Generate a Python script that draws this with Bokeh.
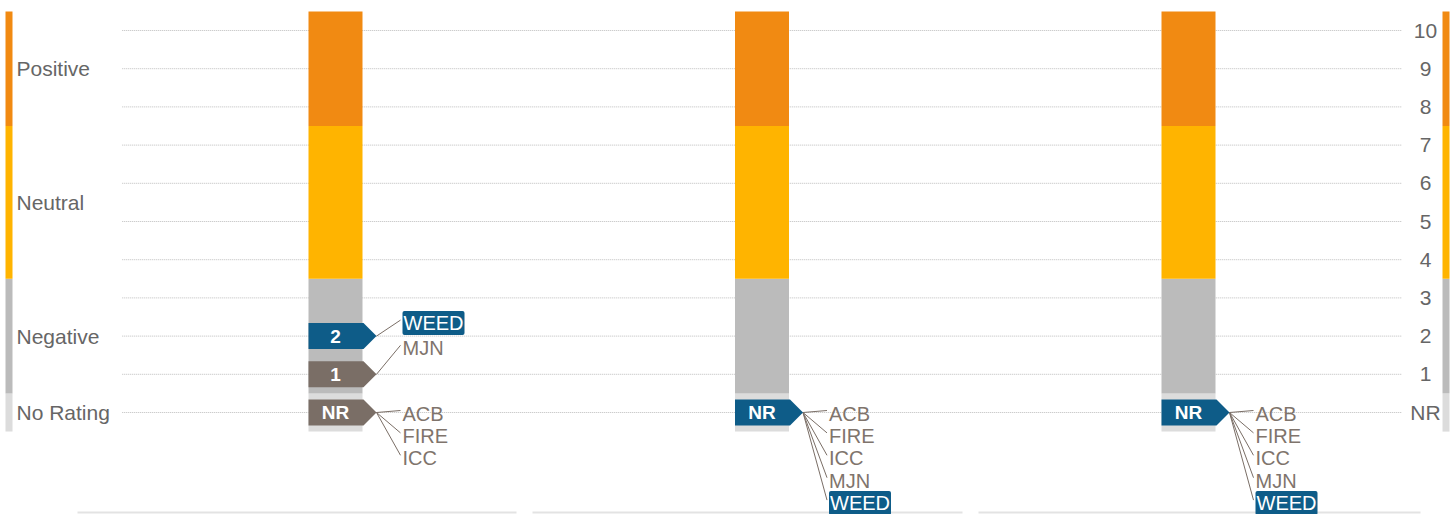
from bokeh.plotting import figure
from bokeh.models import Range1d
from bokeh.core.properties import value
from bokeh.embed import file_html
from bokeh.resources import INLINE

# ---------------- data ----------------
columns = [0, 1, 2]
tickers = ["ACB", "FIRE", "ICC", "MJN", "WEED"]
ratings_col0 = ["NR", "NR", "NR", "1", "2"]
ratings_col1 = ["NR", "NR", "NR", "NR", "NR"]
ratings_col2 = ["NR", "NR", "NR", "NR", "NR"]
ratings = [ratings_col0, ratings_col1, ratings_col2]
highlight = "WEED"

band_labels = ["No Rating", "Negative", "Neutral", "Positive"]
band_low = [-0.5, 0.5, 3.5, 7.5]
band_high = [0.5, 3.5, 7.5, 10.5]
band_label_pos = [0, 2, 5.5, 9]
band_colors = ["#DCDCDC", "#BBBBBB", "#FFB400", "#F18A12"]

tick_values = [0, 1, 2, 3, 4, 5, 6, 7, 8, 9, 10]
tick_labels = ["NR", "1", "2", "3", "4", "5", "6", "7", "8", "9", "10"]
rating_value = {"NR": 0, "1": 1, "2": 2, "3": 3, "4": 4, "5": 5,
                "6": 6, "7": 7, "8": 8, "9": 9, "10": 10}

# ---------------- layout / style ----------------
W, H = 1453, 514
COL_PX = 426.5          # pixels per column
ROW_PX = 38.2           # pixels per rating step
COL0_SCREEN = 335       # screen x of first column
ZERO_SCREEN_Y = 412     # screen y of rating 0 (NR)
FONT = value("Liberation Sans")
BLUE = "#0E5C88"
BROWN = "#7A6E66"
LABEL_COLOR = "#7F746C"
AXIS_TEXT = "#666666"
LABEL_START_PX = {"2": -13, "1": -26, "NR": 1}
LABEL_STEP_PX = 22.4
PANEL_SPANS_PX = [(77, 516), (532, 962), (978, 1420)]
BOTTOM_LINE_PX = 512

x_start = -COL0_SCREEN / COL_PX
x_end = x_start + W / COL_PX
y_end = ZERO_SCREEN_Y / ROW_PX
y_start = y_end - H / ROW_PX


def px_x(n):
    return n / COL_PX


def px_y(n):
    return n / ROW_PX


def sx(px):
    return x_start + px_x(px)


def sy(py):
    return y_end - px_y(py)


p = figure(width=W, height=H, x_range=Range1d(x_start, x_end),
           y_range=Range1d(y_start, y_end), output_backend="svg",
           toolbar_location=None, min_border=0, x_axis_type=None,
           y_axis_type=None)
p.outline_line_color = None
p.background_fill_color = "white"
p.border_fill_color = "white"

# grid lines
n = len(columns)
p.segment(x0=[-0.5] * len(tick_values), x1=[n - 0.5] * len(tick_values),
          y0=tick_values, y1=tick_values, line_color="#BDBDBD",
          line_width=1, line_dash="1 1")

# side strips
p.quad(left=[sx(5)] * 4, right=[sx(12)] * 4, bottom=band_low,
       top=band_high, fill_color=band_colors, line_color=None)
p.quad(left=[sx(1442)] * 4, right=[sx(1449)] * 4, bottom=band_low,
       top=band_high, fill_color=band_colors, line_color=None)

# left band labels
p.text(x=[sx(16)] * 4, y=band_label_pos, text=band_labels,
       text_font=FONT, text_font_size="21px", text_color=AXIS_TEXT,
       text_align="left", text_baseline="middle")

# right tick labels
p.text(x=[sx(1425)] * len(tick_values), y=tick_values,
       text=tick_labels, text_font=FONT, text_font_size="21px",
       text_color=AXIS_TEXT, text_align="center", text_baseline="middle")

# stacked bars
for lo, hi, col in zip(band_low, band_high, band_colors):
    p.vbar(x=columns, bottom=[lo] * n, top=[hi] * n, width=px_x(54),
           fill_color=col, line_color=None)

# bottom panel lines
p.segment(x0=[sx(a) for a, b in PANEL_SPANS_PX],
          x1=[sx(b) for a, b in PANEL_SPANS_PX],
          y0=[sy(BOTTOM_LINE_PX)] * 3, y1=[sy(BOTTOM_LINE_PX)] * 3,
          line_color="#E3E3E3", line_width=2)

# markers + labels
mk_xs, mk_ys, mk_col, mk_x, mk_y, mk_txt = [], [], [], [], [], []
ln_x0, ln_y0, ln_x1, ln_y1 = [], [], [], []
lb = {"x": [], "y": [], "t": []}
hl = {"x": [], "y": [], "t": []}
for c, rats in zip(columns, ratings):
    groups = {}
    for t, r in zip(tickers, rats):
        groups.setdefault(r, []).append(t)
    for r in sorted(groups, key=lambda k: -rating_value[k]):
        v = rating_value[r]
        names = sorted(groups[r])
        hh = px_y(13)
        mk_xs.append([c - px_x(27), c + px_x(28), c + px_x(41),
                      c + px_x(28), c - px_x(27)])
        mk_ys.append([v + hh, v + hh, v, v - hh, v - hh])
        mk_col.append(BLUE if highlight in names else BROWN)
        mk_x.append(c)
        mk_y.append(v)
        mk_txt.append(r)
        for i, name in enumerate(names):
            ly = v - px_y(LABEL_START_PX[r] + i * LABEL_STEP_PX)
            ln_x0.append(c + px_x(41))
            ln_y0.append(v)
            ln_x1.append(c + px_x(65))
            ln_y1.append(ly + px_y(3))
            d = hl if name == highlight else lb
            d["x"].append(c + px_x(67))
            d["y"].append(ly)
            d["t"].append(name)

p.segment(x0=ln_x0, y0=ln_y0, x1=ln_x1, y1=ln_y1, line_color=BROWN,
          line_width=1)
p.patches(xs=mk_xs, ys=mk_ys, fill_color=mk_col, line_color=None)
p.text(x=mk_x, y=mk_y, text=mk_txt, text_font=FONT, text_font_size="19px",
       text_font_style="bold", text_color="white", text_align="center",
       text_baseline="middle")
p.text(x=lb["x"], y=lb["y"], text=lb["t"], text_font=FONT,
       text_font_size="20px", text_color=LABEL_COLOR, text_align="left",
       text_baseline="middle")
p.text(x=hl["x"], y=hl["y"], text=hl["t"], text_font=FONT,
       text_font_size="20px", text_color="white", text_align="left",
       text_baseline="middle", background_fill_color=BLUE, padding=1,
       border_radius=2)

open("out.html", "w").write(file_html(p, INLINE))
